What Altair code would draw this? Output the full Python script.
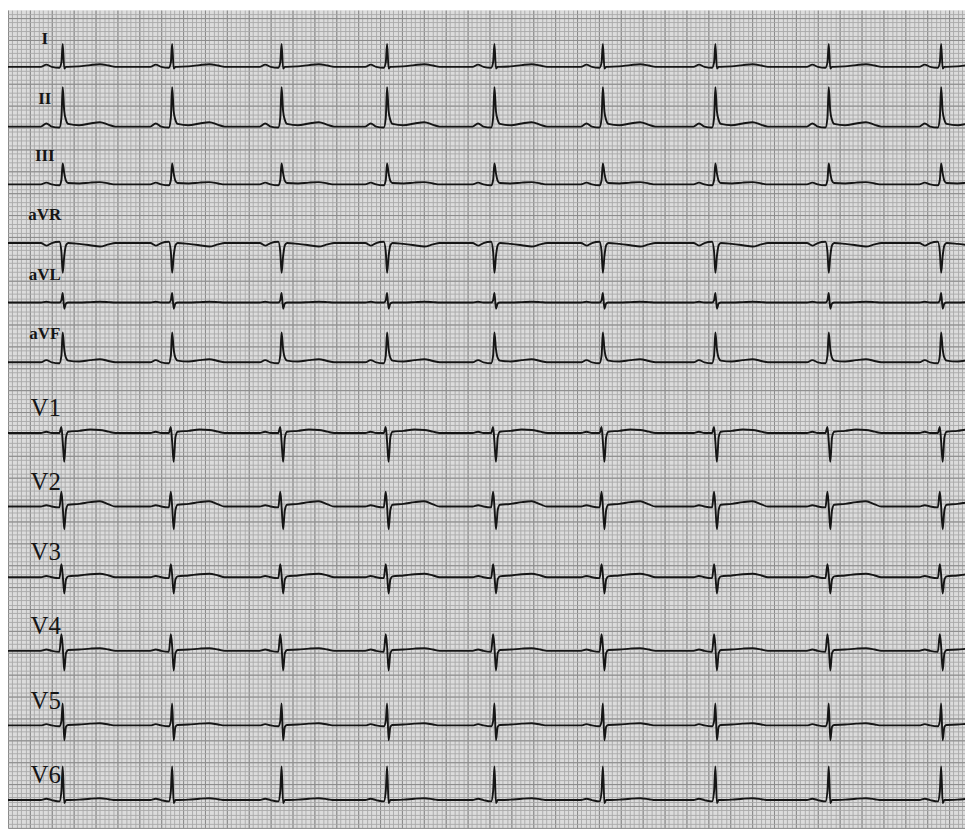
import altair as alt
import numpy as np
import pandas as pd

# ---- data ----
leads = ["I", "II", "III", "aVR", "aVL", "aVF", "V1", "V2", "V3", "V4", "V5", "V6"]
# baseline of every lead (mV on the paper's vertical scale, bottom = 0)
baselines = [17.385, 16.02, 14.70, 13.36, 12.0, 10.635, 9.02, 7.34, 5.725, 4.044, 2.34, 0.635]
# R-peak times of the beats (s)
beat_times = [0.50, 1.50, 2.50, 3.464, 4.445, 5.436, 6.464, 7.50, 8.527]
# time points of one beat relative to its R peak (ms)
beat_ms = [-200, -150, -100, -30, -12, 0, 14, 30, 50, 150, 250, 340, 420, 480]
# amplitude of every lead at those time points (mV)
amp_I   = [0, 0.05, 0, -0.02, 0.10, 0.52, -0.04, 0.00, 0.00, 0.01, 0.04, 0.06, 0.03, 0]
amp_II  = [0, 0.07, 0, -0.02, 0.20, 0.90, 0.35, 0.15, 0.06, 0.03, 0.07, 0.10, 0.04, 0]
amp_III = [0, 0.04, 0, -0.02, 0.10, 0.48, 0.25, 0.08, 0.03, 0.02, 0.04, 0.05, 0.02, 0]
amp_aVR = [0, -0.06, 0, 0.03, -0.20, -0.68, -0.30, -0.05, 0.00, -0.02, -0.05, -0.08, -0.03, 0]
amp_aVL = [0, 0.02, 0, 0.00, 0.05, 0.22, -0.14, -0.02, 0.00, 0.00, 0.01, 0.02, 0.01, 0]
amp_aVF = [0, 0.05, 0, -0.02, 0.15, 0.68, 0.30, 0.10, 0.04, 0.02, 0.05, 0.07, 0.03, 0]
amp_V1  = [0, 0.03, 0, 0.00, 0.14, -0.20, -0.66, -0.10, 0.03, 0.05, 0.08, 0.07, 0.03, 0]
amp_V2  = [0, 0.03, 0, -0.02, 0.34, 0.00, -0.52, -0.08, 0.04, 0.06, 0.10, 0.12, 0.05, 0]
amp_V3  = [0, 0.03, 0, -0.02, 0.30, 0.05, -0.37, -0.05, 0.02, 0.04, 0.07, 0.08, 0.04, 0]
amp_V4  = [0, 0.03, 0, -0.02, 0.38, 0.10, -0.45, -0.05, 0.02, 0.03, 0.05, 0.06, 0.03, 0]
amp_V5  = [0, 0.03, 0, -0.02, 0.10, 0.50, -0.34, -0.03, 0.01, 0.02, 0.04, 0.05, 0.02, 0]
amp_V6  = [0, 0.03, 0, -0.03, 0.20, 0.77, -0.07, 0.00, 0.00, 0.01, 0.03, 0.04, 0.02, 0]
amps = [amp_I, amp_II, amp_III, amp_aVR, amp_aVL, amp_aVF,
        amp_V1, amp_V2, amp_V3, amp_V4, amp_V5, amp_V6]

T_MAX = 8.745
V_MAX = 18.68

rows = []
for lead, base, amp in zip(leads, baselines, amps):
    i = 0
    rows.append({"lead": lead, "i": i, "t": 0.0, "v": base}); i += 1
    for bt in beat_times:
        for ms, a in zip(beat_ms, amp):
            rows.append({"lead": lead, "i": i, "t": bt + ms / 1000.0, "v": base + a}); i += 1
    rows.append({"lead": lead, "i": i, "t": 9.2, "v": base})
df = pd.DataFrame(rows)

lab = pd.DataFrame({"lead": leads, "base": baselines,
                    "kind": ["limb"] * 6 + ["chest"] * 6})
lab["t"] = 0.30

xs = alt.Scale(domain=[0, T_MAX], nice=False, zero=False)
ys = alt.Scale(domain=[0, V_MAX], nice=False, zero=False)

minor_x = [round(v, 3) for v in np.arange(0, T_MAX, 0.04)]
minor_y = [round(v, 3) for v in np.arange(0, V_MAX, 0.1)]
major_x = [round(v, 3) for v in np.arange(0, T_MAX, 0.2)]
major_y = [round(v, 3) for v in np.arange(0, V_MAX, 0.5)]

def ax(vals, color, w):
    return alt.Axis(values=vals, labels=False, ticks=False, domain=False, title=None,
                    grid=True, gridColor=color, gridWidth=w)

trace = alt.Chart(df).mark_line(color="#151515", strokeWidth=1.9, clip=True,
                                interpolate="monotone").encode(
    x=alt.X("t:Q", scale=xs, axis=ax(minor_x, "#a9a9a9", 0.9)),
    y=alt.Y("v:Q", scale=ys, axis=ax(minor_y, "#a9a9a9", 0.9)),
    detail="lead:N",
    order="i:Q",
)

limb = alt.Chart(lab).transform_filter(alt.datum.kind == "limb").mark_text(
    font="Liberation Serif", fontWeight="bold", fontSize=17, color="#151515",
    align="center", baseline="middle", dy=-28, dx=4
).encode(
    x=alt.X("t:Q", scale=xs, axis=ax(major_x, "#8a8a8a", 1)),
    y=alt.Y("base:Q", scale=ys, axis=ax(major_y, "#8a8a8a", 1)),
    text="lead:N",
)

chest = alt.Chart(lab).transform_filter(alt.datum.kind == "chest").mark_text(
    font="Liberation Serif", fontSize=25, color="#151515",
    align="center", baseline="middle", dy=-25, dx=5
).encode(
    x=alt.X("t:Q", scale=xs, axis=None),
    y=alt.Y("base:Q", scale=ys, axis=None),
    text="lead:N",
)

chart = alt.layer(trace, limb, chest).resolve_axis(x="independent", y="independent").properties(
    width=962, height=822, autosize=alt.AutoSizeParams(type="none"), padding=0,
    background="white"
).configure_view(stroke=None, fill="#dcdcdc")

chart.save("out.html", embed_options={"renderer": "svg", "actions": False})
